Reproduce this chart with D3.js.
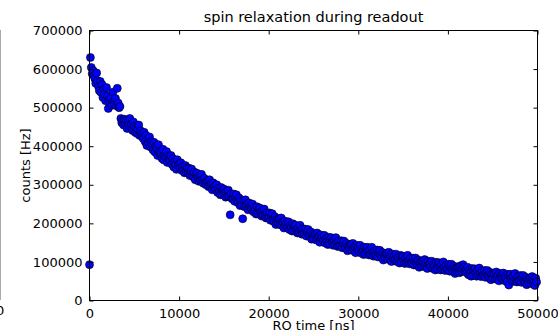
<!DOCTYPE html>
<html><head><meta charset="utf-8">
<script src="https://cdn.jsdelivr.net/npm/d3@7/dist/d3.min.js"></script>
<style>body{margin:0;background:#fff}svg{display:block}text{font-family:"DejaVu Sans",sans-serif;fill:#000}</style>
</head><body><svg id="c" width="558" height="330"></svg>
<script>
const title = "spin relaxation during readout";
const xLabel = "RO time [ns]";
const yLabel = "counts [Hz]";
const xTicks = [0, 10000, 20000, 30000, 40000, 50000];
const yTicks = [0, 100000, 200000, 300000, 400000, 500000, 600000, 700000];
const stepNs = 100;
// counts, in thousands of Hz, one value per 100 ns starting at 0 ns
const countsK = [
93,630,604,588,596,583,575,563,590,570,
555,544,568,539,560,526,548,535,518,552,
530,498,521,512,526,506,540,515,508,524,
505,550,512,500,503,472,461,468,455,470,
459,467,446,462,454,472,450,458,441,463,
452,436,448,433,445,455,428,440,432,425,
420,436,412,428,402,418,408,424,398,412,
405,390,410,385,400,395,376,404,386,380,
384,368,392,364,378,372,386,358,375,366,
362,376,353,368,346,360,352,340,365,350,
354,344,357,337,348,339,331,350,332,344,
331,343,324,335,341,326,320,333,313,326,
330,318,309,323,311,327,312,304,317,305,
300,309,311,295,313,296,303,287,305,294,
297,287,300,280,291,282,274,293,275,287,
289,277,268,282,270,286,271,222,276,264,
264,276,257,268,274,259,253,266,246,259,
248,212,259,243,261,244,251,235,253,242,
247,237,250,230,241,232,224,243,225,237,
240,228,219,233,221,237,222,214,227,215,
215,227,208,219,225,210,204,217,197,210,
201,210,212,196,214,197,204,188,206,195,
200,190,204,184,195,188,180,199,182,194,
195,183,175,189,177,195,180,172,186,174,
173,185,167,178,184,171,165,178,159,172,
161,170,173,157,175,160,167,151,170,159,
165,155,169,149,160,153,145,164,147,159,
163,151,143,157,145,163,148,140,154,142,
143,155,137,148,154,141,135,148,129,142,
134,143,146,130,148,133,140,124,143,132,
139,129,143,123,134,127,119,138,121,133,
138,126,118,132,120,138,123,115,129,117,
119,131,113,124,130,117,111,124,105,118,
111,120,123,107,125,110,117,101,120,109,
115,106,120,101,112,105,97,117,100,113,
115,104,96,111,99,117,102,95,109,98,
97,110,92,104,110,97,91,105,86,100,
90,100,103,88,106,91,98,83,102,92,
97,88,102,83,94,87,79,99,82,95,
98,87,79,94,82,100,85,78,92,81,
81,94,76,88,94,81,75,89,70,84,
74,84,87,72,90,75,82,93,86,76,
81,72,86,67,78,71,63,83,66,79,
82,71,63,78,66,84,69,62,76,65,
65,78,60,72,78,65,59,73,54,68,
58,68,71,56,74,59,66,51,70,60,
66,57,71,52,63,56,48,68,40,64,
68,57,49,64,52,70,55,48,62,51,
52,65,47,59,65,52,46,60,41,55,
46,56,59,44,62,47,54,39,58,48
];
const counts = countsK.map(v => v * 1000);
const times = counts.map((_, i) => i * stepNs);

const svg = d3.select("#c");
const L = 89.5, R = 537.5, T = 30.5, B = 300.5;
const x = d3.scaleLinear().domain([0, 50000]).range([L, R]);
const y = d3.scaleLinear().domain([0, 700000]).range([B, T]);

// remnant of a neighbouring panel at the left edge
svg.append("line").attr("x1", 0.5).attr("x2", 0.5).attr("y1", 30).attr("y2", 300).attr("stroke", "#aaa");
svg.append("text").attr("x", -4).attr("y", 315).style("font-size", "13px").text("0");

// points
svg.append("g").selectAll("circle").data(counts).join("circle")
  .attr("cx", (d, i) => x(times[i])).attr("cy", d => y(d)).attr("r", 4)
  .attr("fill", "#0000ff").attr("stroke", "#000").attr("stroke-width", 0.6);

// frame
svg.append("rect").attr("x", L).attr("y", T).attr("width", R - L).attr("height", B - T)
  .attr("fill", "none").attr("stroke", "#000").attr("stroke-width", 1);

const fmt = d3.format("d");
const axB = d3.axisBottom(x).tickValues(xTicks).tickFormat(fmt).tickSizeInner(-4).tickSizeOuter(0).tickPadding(8);
const axT = d3.axisTop(x).tickValues(xTicks).tickFormat("").tickSizeInner(-4).tickSizeOuter(0);
const axL = d3.axisLeft(y).tickValues(yTicks).tickFormat(fmt).tickSizeInner(-4).tickSizeOuter(0).tickPadding(7);
const axR = d3.axisRight(y).tickValues(yTicks).tickFormat("").tickSizeInner(-4).tickSizeOuter(0);
function style(g){ g.select(".domain").remove(); g.selectAll("text").style("font-size","13px").style("font-family","DejaVu Sans"); g.selectAll("line").attr("stroke","#000"); }
svg.append("g").attr("transform", `translate(0,${B})`).call(axB).call(style);
svg.append("g").attr("transform", `translate(0,${T})`).call(axT).call(style);
svg.append("g").attr("transform", `translate(${L},0)`).call(axL).call(style);
svg.append("g").attr("transform", `translate(${R},0)`).call(axR).call(style);

svg.append("text").attr("x", (L + R) / 2).attr("y", 22).attr("text-anchor", "middle").style("font-size", "14.5px").text(title);
svg.append("text").attr("x", (L + R) / 2).attr("y", 330).attr("text-anchor", "middle").style("font-size", "13px").text(xLabel);
svg.append("text").attr("transform", `translate(30,${(T + B) / 2}) rotate(-90)`).attr("text-anchor", "middle").style("font-size", "13px").text(yLabel);
</script></body></html>
